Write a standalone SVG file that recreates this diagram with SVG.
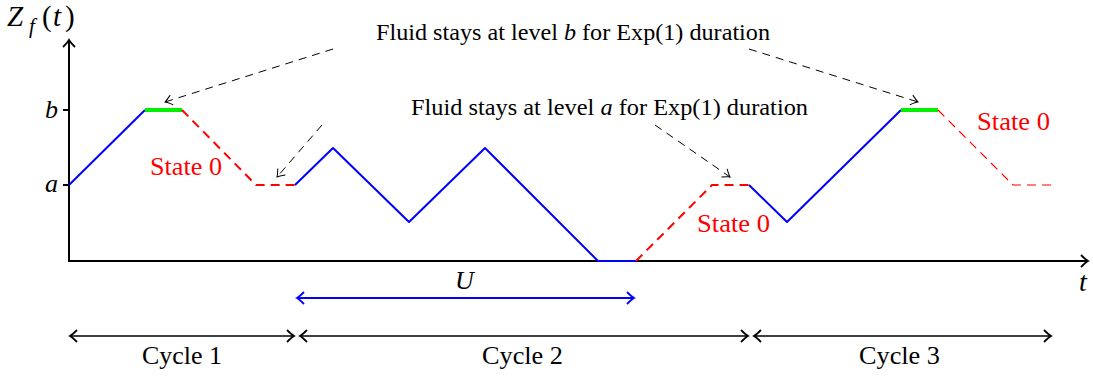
<svg xmlns="http://www.w3.org/2000/svg" width="1093" height="377" viewBox="0 0 1093 377">
<style>
text{font-family:"Liberation Serif","DejaVu Serif",serif;fill:#000}
.it{font-style:italic}
.red{fill:#ff0000}
.ax{stroke:#000;stroke-width:2;fill:none}
.blue{stroke:#0000ff;stroke-width:2;fill:none;stroke-linejoin:round}
.green{stroke:#00ee00;stroke-width:4;fill:none}
.rd{stroke:#ff0000;stroke-width:2;fill:none;stroke-dasharray:9,6}
.rdt{stroke:#ff0000;stroke-width:1.2;fill:none;stroke-dasharray:9,6}
.ann{stroke:#000;stroke-width:1;fill:none;stroke-dasharray:8,6}
.cyc{stroke:#000;stroke-width:1.6;fill:none}
</style>
<defs>
<marker id="to" viewBox="-10 -8 12 16" markerWidth="12" markerHeight="16" refX="0" refY="0" orient="auto-start-reverse" markerUnits="userSpaceOnUse">
<path d="M-7,-6 Q-2,-1 0,0 Q-2,1 -7,6" stroke="#000" stroke-width="1.8" fill="none"/>
</marker>
<marker id="toB" viewBox="-10 -8 12 16" markerWidth="12" markerHeight="16" refX="0" refY="0" orient="auto-start-reverse" markerUnits="userSpaceOnUse">
<path d="M-7,-6 Q-2,-1 0,0 Q-2,1 -7,6" stroke="#0000ff" stroke-width="1.8" fill="none"/>
</marker>
<marker id="toS" viewBox="-10 -8 12 16" markerWidth="12" markerHeight="16" refX="0" refY="0" orient="auto" markerUnits="userSpaceOnUse">
<path d="M-7,-5 Q-2,-1 0,0 Q-2,1 -7,5" stroke="#000" stroke-width="1" fill="none"/>
</marker>
</defs>

<g id="axes">
<path class="ax" d="M69,262 V40" marker-end="url(#to)"/>
<path class="ax" d="M68,261 H1088" marker-end="url(#to)"/>
<path class="ax" d="M63,110 H69 M63,185 H69" stroke-width="1.2"/>
<text font-size="29"><tspan x="7" y="26" class="it">Z</tspan><tspan x="29" y="33" class="it" font-size="21">f</tspan><tspan x="42" y="26">(</tspan><tspan x="53" y="26" class="it">t</tspan><tspan x="65" y="26">)</tspan></text>
<text x="45" y="118" font-size="26" class="it">b</text>
<text x="45" y="192" font-size="26" class="it">a</text>
<text x="1079" y="291" font-size="28" class="it">t</text>
</g>

<g id="trajectory">
<path class="blue" d="M69,185 L145,110"/>
<path class="green" d="M145,110 H182"/>
<path class="rd" d="M182,110 L256,185 H295"/>
<path class="blue" d="M295,185 L333,148 L409,222 L485,148 L598,261 H636"/>
<path class="rd" d="M636,261 L712,185 H749"/>
<path class="blue" d="M749,185 L787,222 L901,110"/>
<path class="green" d="M901,110 H938"/>
<path class="rdt" d="M938,110 L1013,185 H1053"/>
</g>

<g id="labels">
<text x="150" y="175" font-size="26" class="red" textLength="72" lengthAdjust="spacingAndGlyphs">State 0</text>
<text x="697" y="232" font-size="26" class="red" textLength="73" lengthAdjust="spacingAndGlyphs">State 0</text>
<text x="977" y="130" font-size="26" class="red" textLength="73" lengthAdjust="spacingAndGlyphs">State 0</text>
<text x="376" y="40" font-size="24" textLength="394" lengthAdjust="spacingAndGlyphs">Fluid stays at level <tspan class="it">b</tspan> for Exp(1) duration</text>
<text x="411" y="115" font-size="24" textLength="397" lengthAdjust="spacingAndGlyphs">Fluid stays at level <tspan class="it">a</tspan> for Exp(1) duration</text>
</g>

<g id="connectors">
<path class="ann" d="M333,49 L165,102" marker-end="url(#toS)"/>
<path class="ann" d="M322,125 L277,177" marker-end="url(#toS)"/>
<path class="ann" d="M655,125 L730,177" marker-end="url(#toS)"/>
<path class="ann" d="M749,49 L918,102" marker-end="url(#toS)"/>
</g>

<g id="U">
<path d="M297,298 H634" stroke="#0000ff" stroke-width="2" fill="none" marker-start="url(#toB)" marker-end="url(#toB)"/>
<text x="455" y="289" font-size="26" class="it">U</text>
</g>

<g id="cycles">
<path class="cyc" d="M70,336 H294" marker-start="url(#to)" marker-end="url(#to)"/>
<path class="cyc" d="M300,336 H748" marker-start="url(#to)" marker-end="url(#to)"/>
<path class="cyc" d="M754,336 H1051" marker-start="url(#to)" marker-end="url(#to)"/>
<text x="142" y="364" font-size="26" textLength="80" lengthAdjust="spacingAndGlyphs">Cycle 1</text>
<text x="482" y="364" font-size="26" textLength="81" lengthAdjust="spacingAndGlyphs">Cycle 2</text>
<text x="859" y="364" font-size="26" textLength="81" lengthAdjust="spacingAndGlyphs">Cycle 3</text>
</g>
</svg>
